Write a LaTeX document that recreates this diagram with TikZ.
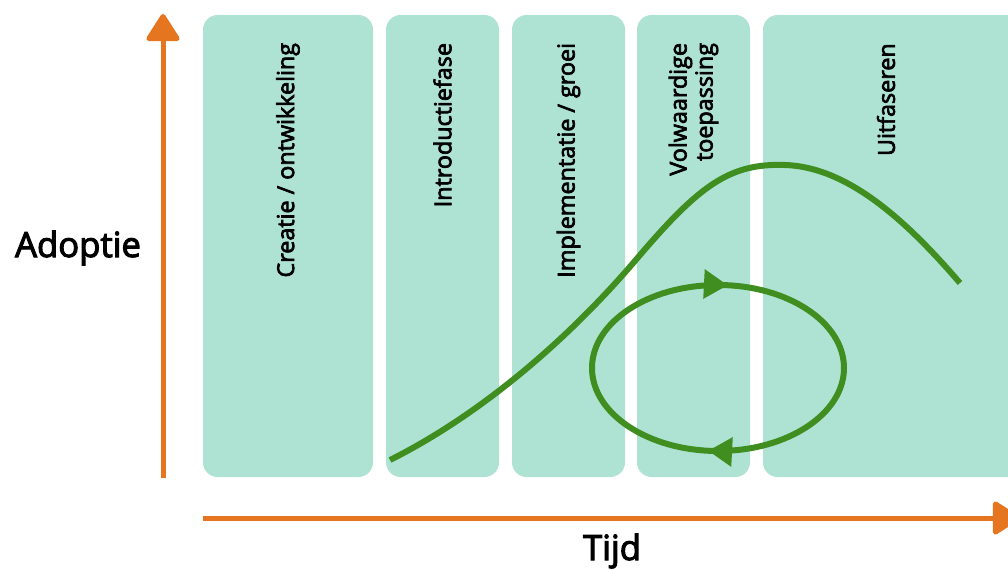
\documentclass[tikz,border=0pt]{standalone}
\usepackage{fontspec}
\setmainfont{Open Sans}[FakeBold=3]
\usetikzlibrary{arrows.meta,fit,decorations.markings}
\definecolor{mint}{HTML}{AEE3D4}
\definecolor{axisorange}{HTML}{E5761F}
\definecolor{curvegreen}{HTML}{3F8E1F}
\tikzstyle{axis} = [line width=3.75pt, draw=axisorange, -{Triangle[length=22pt,width=27pt,round]}]
\tikzstyle{curve} = [line width=4.5pt, draw=curvegreen]
\tikzset{phase/.style={fill=mint, draw=none, rounded corners=11pt, inner sep=0pt},phaselabel/.style={rotate=90, anchor=east, inner sep=0pt, align=right, font=\fontsize{17.5}{19.5}\selectfont},axislabel/.style={anchor=base, inner sep=0pt, font=\fontsize{26}{30}\selectfont}}

\begin{document}
\begin{tikzpicture}[x=0.75pt, y=-0.75pt]
    \useasboundingbox (0,0) rectangle (1008,569);
    \fill[white] (0,0) rectangle (1008,569);
    \clip (0,0) rectangle (1008,569);

    % phases
    \node [phase, fit={(203,15) (373,477)}] (creatie) {};
    \node [phase, fit={(386,15) (499,477)}] (introductie) {};
    \node [phase, fit={(512,15) (625,477)}] (implementatie) {};
    \node [phase, fit={(637,15) (750,477)}] (volwaardig) {};
    \node [phase, fit={(763,15) (1040,477)}] (uitfaseren) {};

    \node [phaselabel] (creatielabel) at ([yshift=-21pt]creatie.north) {Creatie / ontwikkeling};
    \node [phaselabel] (introductielabel) at ([yshift=-21pt]introductie.north) {Introductiefase};
    \node [phaselabel] (implementatielabel) at ([yshift=-21pt]implementatie.north) {Implementatie / groei};
    \node [phaselabel] (volwaardiglabel) at ([yshift=-21pt]volwaardig.north) {Volwaardige\\toepassing};
    \node [phaselabel] (uitfaserenlabel) at (886,43) {Uitfaseren};

    % adoption curve and loop
    \draw [curve] (390,460) .. controls (470,420) and (560,350) .. (640,255)
        .. controls (700,185) and (730,163) .. (785,165)
        .. controls (850,167) and (910,225) .. (960,283);
    \draw [curve, postaction={decorate}, decoration={markings,
        mark=at position 0.265 with {\arrow{Triangle[length=18pt,width=21pt]}},
        mark=at position 0.765 with {\arrow{Triangle[length=18pt,width=21pt]}}}]
        (718,368) ellipse [x radius=126, y radius=83];

    % axes
    \coordinate (yfoot) at (163,478);
    \coordinate (ytop) at (163,14);
    \coordinate (xfoot) at (203,518);
    \coordinate (xtip) at (1020,518);
    \draw [axis] (yfoot) -- (ytop);
    \draw [axis] (xfoot) -- (xtip);

    \node [axislabel] (adoptie) at (78,257) {Adoptie};
    \node [axislabel] (tijd) at (612,560) {Tijd};
\end{tikzpicture}
\end{document}
